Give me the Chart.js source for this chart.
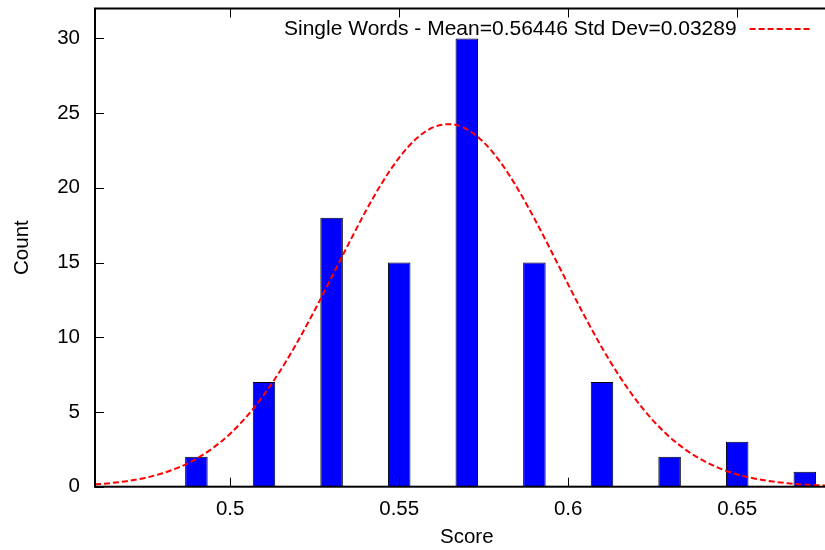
<!DOCTYPE html>
<html><head><meta charset="utf-8">
<script src="https://cdn.jsdelivr.net/npm/chart.js@4/dist/chart.umd.min.js"></script>
<style>
html,body{margin:0;padding:0;overflow:hidden;background:#fff;width:825px;height:550px}
canvas{display:block}
</style></head>
<body><canvas id="c" width="850" height="550"></canvas>
<script>
// Histogram bins (bin centres) and counts
const binCenters = [0.49, 0.51, 0.53, 0.55, 0.57, 0.59, 0.61, 0.63, 0.65, 0.67];
const counts     = [2, 7, 18, 15, 30, 15, 7, 2, 3, 1];

// Fitted normal curve, sampled along the score axis
const fitX = [0.460,0.465,0.470,0.475,0.480,0.485,0.490,0.495,0.500,0.505,0.510,0.515,0.520,0.525,0.530,0.535,0.540,0.545,0.550,0.555,0.560,0.565,0.570,0.575,0.580,0.585,0.590,0.595,0.600,0.605,0.610,0.615,0.620,0.625,0.630,0.635,0.640,0.645,0.650,0.655,0.660,0.665,0.670,0.675,0.680];
const fitY = [0.16,0.25,0.39,0.60,0.90,1.31,1.87,2.61,3.55,4.73,6.16,7.83,9.73,11.81,14.01,16.24,18.40,20.36,22.02,23.28,24.04,24.26,23.92,23.05,21.70,19.96,17.94,15.76,13.53,11.35,9.30,7.45,5.83,4.46,3.33,2.43,1.74,1.21,0.82,0.55,0.36,0.23,0.14,0.09,0.05];

const xTicks = [0.5, 0.55, 0.6, 0.65];
const yTicks = [0, 5, 10, 15, 20, 25, 30];
const xRange = [0.46, 0.68];
const yRange = [0, 32];
const fitLabel = 'Single Words - Mean=0.56446 Std Dev=0.03289';

const FONT = "'Liberation Sans', Arial, Helvetica, sans-serif";

const framePlugin = {
  id: 'frame',
  afterDatasetsDraw(chart) {
    const {ctx, chartArea: a, scales: {x, y}} = chart;
    ctx.save();
    ctx.strokeStyle = '#000';
    ctx.lineWidth = 1;
    const tl = 9;
    ctx.beginPath();
    xTicks.forEach(v => {
      const px = Math.round(x.getPixelForValue(v)) + 0.5;
      ctx.moveTo(px, a.bottom); ctx.lineTo(px, a.bottom - tl);
      ctx.moveTo(px, a.top); ctx.lineTo(px, a.top + tl);
    });
    yTicks.forEach(v => {
      const py = Math.round(y.getPixelForValue(v)) + 0.5;
      ctx.moveTo(a.left, py); ctx.lineTo(a.left + tl, py);
      ctx.moveTo(a.right, py); ctx.lineTo(a.right - tl, py);
    });
    ctx.stroke();
    ctx.lineWidth = 2;
    ctx.strokeRect(a.left, a.top, a.right - a.left, a.bottom - a.top);

    // key
    const ds = chart.data.datasets[0];
    const lineEnd = a.right - 28;
    const lineStart = lineEnd - 61;
    const ly = a.top + 20.5;
    ctx.font = '21px ' + FONT;
    ctx.fillStyle = '#000';
    ctx.textAlign = 'right';
    ctx.textBaseline = 'middle';
    ctx.fillText(ds.label, lineStart - 13, ly);
    ctx.strokeStyle = ds.borderColor;
    ctx.lineWidth = ds.borderWidth;
    ctx.setLineDash(ds.borderDash);
    ctx.beginPath();
    ctx.moveTo(lineStart, ly);
    ctx.lineTo(lineEnd, ly);
    ctx.stroke();
    ctx.restore();
  }
};

new Chart(document.getElementById('c'), {
  type: 'bar',
  data: {
    datasets: [
      {
        type: 'line',
        label: fitLabel,
        data: fitX.map((v, i) => ({x: v, y: fitY[i]})),
        borderColor: '#ff0000',
        borderWidth: 2,
        borderDash: [6, 3],
        pointRadius: 0,
        cubicInterpolationMode: 'monotone',
        fill: false,
        order: 0
      },
      {
        type: 'bar',
        label: 'Count',
        data: binCenters.map((v, i) => ({x: v, y: counts[i]})),
        backgroundColor: '#0000ff',
        borderColor: '#000000',
        borderWidth: 1,
        barPercentage: 1 / 3,
        categoryPercentage: 1,
        order: 1
      }
    ]
  },
  options: {
    responsive: false,
    animation: false,
    events: [],
    layout: {padding: {left: 0, top: 8.5, right: 11.4, bottom: 0}},
    plugins: {legend: {display: false}, tooltip: {enabled: false}},
    scales: {
      x: {
        type: 'linear',
        offset: false,
        min: xRange[0], max: xRange[1],
        grid: {display: false, drawTicks: false, offset: false},
        border: {display: false},
        afterBuildTicks: s => { s.ticks = xTicks.map(v => ({value: v})); },
        afterFit: s => { s.height = 63.3; s.paddingLeft = 0; s.paddingRight = 0; },
        ticks: {
          autoSkip: false, maxRotation: 0, padding: 10,
          color: '#000', font: {family: FONT, size: 20.5},
          callback: v => String(v)
        },
        title: {display: true, text: 'Score', color: '#000', font: {family: FONT, size: 20.5}, padding: {top: 0, bottom: 0}}
      },
      y: {
        min: yRange[0], max: yRange[1],
        grid: {display: false, drawTicks: false},
        border: {display: false},
        afterBuildTicks: s => { s.ticks = yTicks.map(v => ({value: v})); },
        afterFit: s => { s.width = 95; s.paddingTop = 0; s.paddingBottom = 0; },
        ticks: {padding: 15, color: '#000', font: {family: FONT, size: 20.5}},
        title: {display: true, text: 'Count', color: '#000', font: {family: FONT, size: 20.5}, padding: {top: 10, bottom: 0}}
      }
    }
  },
  plugins: [framePlugin]
});
</script>
</body></html>
